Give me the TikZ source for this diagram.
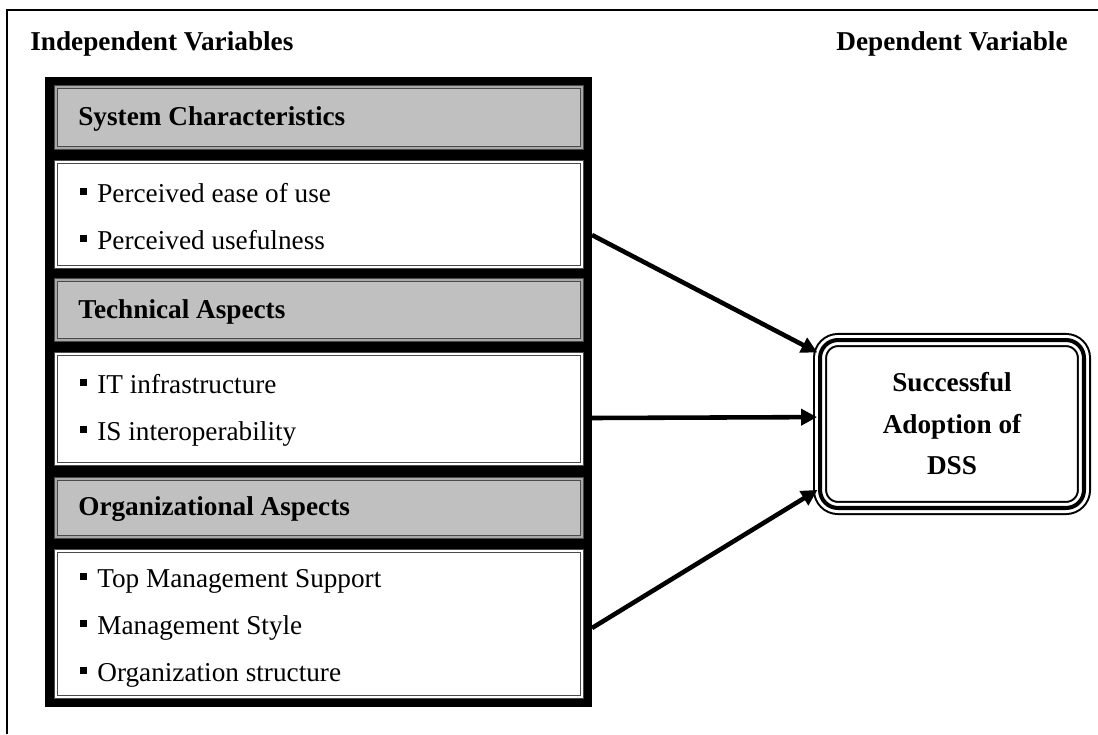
\documentclass[tikz,border=0pt]{standalone}
\usepackage{fontspec}
\setmainfont{Liberation Serif}
\usepackage{tikz}
\definecolor{color0}{HTML}{000000}
\definecolor{bgColor}{HTML}{ffffff}
\definecolor{headGray}{HTML}{c0c0c0}
\definecolor{lineGray}{HTML}{4a4a4a}
\definecolor{stripeGray}{HTML}{a8a8a8}
\usetikzlibrary{arrows.meta}
\newcommand{\sqbul}{\rule[0.14cm]{0.14cm}{0.14cm}\hspace{0.2cm}}

\begin{document}
\begin{tikzpicture}
\tikzset{x=0.02cm,y=-0.02cm}
\tikzset{
  cellbox/.style={anchor=north west, inner sep=0, outer sep=0, minimum width=10.52cm, draw=lineGray, line width=0.5pt, double distance=1.3pt},
  headcell/.style={cellbox, fill=headGray, double=stripeGray},
  bodycell/.style={cellbox, fill=bgColor, double=bgColor},
  headtext/.style={anchor=base west, inner sep=0, font=\fontsize{15.5}{18}\selectfont\bfseries},
  itemtext/.style={anchor=base west, inner sep=0, font=\fontsize{15.5}{18}\selectfont},
  dssbox/.style={rounded corners=0.36cm, minimum width=5.28cm, minimum height=3.36cm, inner sep=0, outer sep=0, align=center, font=\fontsize{15.5}{23.6}\selectfont\bfseries, preaction={draw=color0, line width=8pt}, preaction={draw=bgColor, line width=5.7pt}, draw=color0, line width=2.3pt},
  arr/.style={line width=2.6pt, color=color0, shorten >=0.06cm, -{Triangle[length=0.32cm,width=0.32cm]}}
}
\useasboundingbox (0,0) rectangle (1098,734);
\fill[bgColor] (0,0) rectangle (1098,734);
\draw[line width=1pt, color=color0] (7,734) -- (7,10) -- (1098,10);
\node[headtext] (indep) at (30,50) {Independent Variables};
\node[headtext, anchor=base] (dep) at (952,50) {Dependent Variable};
\fill[color0] (45,77) rectangle (592,707);
\node[headcell, minimum height=1.22cm] (hsys) at (56,87) {};
\node[bodycell, minimum height=2.10cm] (csys) at (56,162) {};
\node[headcell, minimum height=1.20cm] (htech) at (56,280) {};
\node[bodycell, minimum height=2.20cm] (ctech) at (56,354) {};
\node[headcell, minimum height=1.16cm] (horg) at (56,479) {};
\node[bodycell, minimum height=2.92cm] (corg) at (56,551) {};
\node[headtext] (sysname) at (78,125) {System Characteristics};
\node[itemtext] (ease) at (80,202) {\sqbul Perceived ease of use};
\node[itemtext] (useful) at (80,249) {\sqbul Perceived usefulness};
\node[headtext] (techname) at (78,318) {Technical Aspects};
\node[itemtext] (infra) at (80,393) {\sqbul IT infrastructure};
\node[itemtext] (interop) at (80,440) {\sqbul IS interoperability};
\node[headtext] (orgname) at (78,515) {Organizational Aspects};
\node[itemtext] (topmgmt) at (80,587) {\sqbul Top Management Support};
\node[itemtext] (mgmtstyle) at (80,634) {\sqbul Management Style};
\node[itemtext] (orgstruct) at (80,681) {\sqbul Organization structure};
\node[dssbox] (dss) at (952,424) {Successful\\Adoption of\\DSS};
\coordinate (sysout) at (592,235);
\coordinate (techout) at (592,418);
\coordinate (orgout) at (592,628);
\draw[arr] (sysout) -- (dss.152);
\draw[arr] (techout) -- (dss.177);
\draw[arr] (orgout) -- (dss.206);
\end{tikzpicture}
\end{document}
